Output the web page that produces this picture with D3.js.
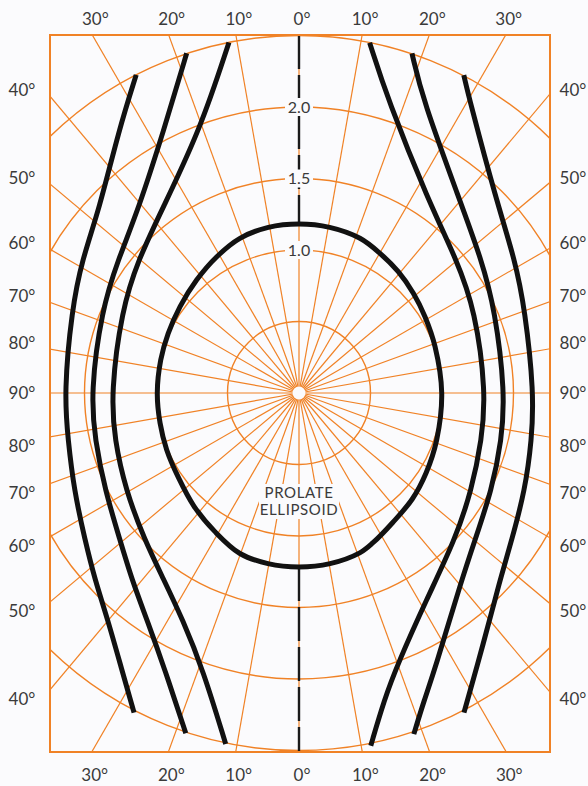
<!DOCTYPE html>
<html>
  <head>
    <title>Prolate ellipsoid polar diagram</title>
    <style>
      body {
        margin: 0;
        background: #fbfbfd;
      }
      svg {
        display: block;
      }
      text {
        font-family: Lato, 'Open Sans', sans-serif;
        fill: #3a3a3a;
      }
    </style>
  </head>
  <body>
    <svg id="svg" width="588" height="786"></svg>
    <script src="https://cdn.jsdelivr.net/npm/d3@7"></script>
    <script>
      // every curve is [angle from the top in degrees (clockwise), radius]
      const ellipsoid = [
        [0, 1.182], [10.5, 1.178], [21.5, 1.163], [30.1, 1.129], [39.3, 1.096],
        [48.9, 1.061], [58.8, 1.03], [71.2, 1.005], [90, 0.998], [108.8, 1.017],
        [122.2, 1.05], [133.1, 1.085], [144.1, 1.118], [153.7, 1.168], [159.2, 1.196],
        [169.7, 1.213], [180, 1.217], [-169.7, 1.213], [-159.8, 1.196], [-149, 1.135],
        [-137.2, 1.08], [-125.1, 1.03], [-113.3, 1.007], [-102.2, 0.994], [-90, 0.991],
        [-76.6, 0.994], [-65.5, 1.005], [-54, 1.028], [-42.2, 1.066], [-31.1, 1.113],
        [-20.9, 1.158], [-10.5, 1.178],
      ];
      const leftInner = [
        [-11.3, 2.5], [-20.6, 1.965], [-36.8, 1.6], [-50.4, 1.46], [-64.9, 1.369],
        [-90, 1.315], [-104.3, 1.331], [-119.2, 1.389], [-133.6, 1.491],
        [-143.7, 1.606], [-152.9, 1.783], [-160.9, 2.05], [-168.2, 2.507],
      ];
      const leftMiddle = [
        [-18.3, 2.502], [-27.2, 2.067], [-41.3, 1.704], [-53.7, 1.571], [-67.2, 1.497],
        [-90, 1.457], [-103, 1.464], [-116.6, 1.517], [-129.4, 1.62],
        [-138.2, 1.753], [-146.2, 1.91], [-154.2, 2.152], [-161.6, 2.508],
      ];
      const leftOuter = [
        [-27.1, 2.499], [-34.4, 2.229], [-47.5, 1.896], [-58.5, 1.78],
        [-69.9, 1.692], [-90, 1.643], [-101.5, 1.648], [-113.3, 1.713],
        [-124.5, 1.816], [-132.5, 1.935], [-139.9, 2.075], [-147.4, 2.299],
        [-152.7, 2.515],
      ];
      const rightInner = [
        [11.4, 2.499], [16.9, 2.141], [33.8, 1.623], [49.9, 1.443], [64.8, 1.361],
        [90, 1.308], [104.4, 1.319], [119.3, 1.385], [133.3, 1.499], [148.4, 1.699],
        [159.9, 2.013], [164.5, 2.228], [168.5, 2.517],
      ];
      const rightMiddle = [
        [18.4, 2.503], [22.9, 2.225], [39.8, 1.756], [53.9, 1.58], [67, 1.489],
        [90, 1.441], [103.1, 1.455], [116.7, 1.509], [129.9, 1.604], [139, 1.733],
        [153.9, 2.157], [157.8, 2.318], [161.4, 2.517],
      ];
      const rightOuter = [
        [27.4, 2.504], [30.2, 2.371], [45.6, 1.93], [58.4, 1.774], [69.8, 1.684],
        [90, 1.643], [101.4, 1.66], [113.2, 1.72], [124.6, 1.808], [132.9, 1.92],
        [136.6, 1.994], [147.4, 2.299], [152.7, 2.515],
      ];

      const ringValues = [0.5, 1, 1.5, 2, 2.5];
      const ringLabels = ['1.0', '1.5', '2.0'];
      const ringLabelValues = [1, 1.5, 2];
      const spokeAngles = d3.range(0, 360, 10);
      const edgeAngles = [-30, -20, -10, 0, 10, 20, 30];
      const sideAngles = [40, 50, 60, 70, 80, 90, 100, 110, 120, 130, 140];
      const title = ['PROLATE', 'ELLIPSOID'];

      const cx = 299;
      const cy = 393;
      const frameLeft = 50;
      const frameRight = 550;
      const frameTop = 35;
      const frameBottom = 752;
      const orange = '#f08226';
      const bg = '#fbfbfd';
      const toRad = (d) => (d * Math.PI) / 180;

      const rScale = d3.scaleLinear().domain([0, 2.5]).range([0, 357.5]);

      const svg = d3.select('#svg');
      svg
        .append('defs')
        .append('clipPath')
        .attr('id', 'frame')
        .append('rect')
        .attr('x', frameLeft - cx)
        .attr('y', frameTop - cy)
        .attr('width', frameRight - frameLeft)
        .attr('height', frameBottom - frameTop);

      const plot = svg.append('g').attr('transform', `translate(${cx}, ${cy})`);
      const grid = plot.append('g').attr('clip-path', 'url(#frame)');

      const radial = d3
        .lineRadial()
        .angle((d) => toRad(d[0]))
        .radius((d) => rScale(d[1]));

      // spokes
      grid
        .selectAll('.spoke')
        .data(spokeAngles)
        .join('path')
        .attr('class', 'spoke')
        .attr('d', (a) => radial([[a, 0], [a, 3.2]]))
        .attr('stroke', orange)
        .attr('stroke-width', 1.2)
        .attr('fill', 'none');

      // rings
      grid
        .selectAll('.ring')
        .data(ringValues)
        .join('circle')
        .attr('class', 'ring')
        .attr('r', (d) => rScale(d))
        .attr('stroke', orange)
        .attr('stroke-width', 1.4)
        .attr('fill', 'none');

      plot.append('circle').attr('r', 6.5).attr('fill', bg);

      // black dashed vertical axis outside the ellipsoid
      const axisLine = d3.line();
      plot
        .append('path')
        .attr('d', axisLine([[0, frameTop - cy], [0, -rScale(ellipsoid[0][1])]]))
        .attr('stroke', '#1a1a1a')
        .attr('stroke-width', 2.4)
        .attr('stroke-dasharray', '34,6');
      plot
        .append('path')
        .attr('d', axisLine([[0, rScale(1.217)], [0, frameBottom - cy]]))
        .attr('stroke', '#1a1a1a')
        .attr('stroke-width', 2.4)
        .attr('stroke-dasharray', '34,6');

      // ring labels on the vertical axis
      const ringLab = plot
        .selectAll('.ringlab')
        .data(ringLabelValues)
        .join('g')
        .attr('class', 'ringlab')
        .attr('transform', (d) => `translate(0, ${-rScale(d)})`);
      ringLab
        .append('rect')
        .attr('x', -14)
        .attr('y', -9)
        .attr('width', 28)
        .attr('height', 18)
        .attr('fill', bg);
      ringLab
        .append('text')
        .attr('text-anchor', 'middle')
        .attr('dy', '0.36em')
        .attr('font-size', 16)
        .text((d, i) => ringLabels[i]);

      // black curves
      const curves = [leftInner, leftMiddle, leftOuter, rightInner, rightMiddle, rightOuter];
      plot
        .selectAll('.curve')
        .data(curves)
        .join('path')
        .attr('class', 'curve')
        .attr('d', radial.curve(d3.curveBasis))
        .attr('fill', 'none')
        .attr('stroke', '#111')
        .attr('stroke-width', 5);

      plot
        .append('path')
        .attr('d', radial.curve(d3.curveCatmullRomClosed)(ellipsoid))
        .attr('fill', 'none')
        .attr('stroke', '#111')
        .attr('stroke-width', 5);

      // label under the ellipsoid
      const titleG = plot.append('g').attr('transform', 'translate(0, 91)');
      titleG
        .append('rect')
        .attr('x', -40)
        .attr('y', 0)
        .attr('width', 80)
        .attr('height', 35)
        .attr('fill', bg);
      titleG
        .selectAll('text')
        .data(title)
        .join('text')
        .attr('text-anchor', 'middle')
        .attr('y', (d, i) => 14 + i * 17)
        .attr('font-size', 15)
        .attr('letter-spacing', 0.6)
        .text((d) => d);

      // frame
      svg
        .append('rect')
        .attr('x', frameLeft)
        .attr('y', frameTop)
        .attr('width', frameRight - frameLeft)
        .attr('height', frameBottom - frameTop)
        .attr('fill', 'none')
        .attr('stroke', orange)
        .attr('stroke-width', 2);

      // edge labels, top and bottom
      const deg = (d) => d + '\u00b0';
      svg
        .selectAll('.toplab')
        .data(edgeAngles)
        .join('text')
        .attr('class', 'toplab')
        .attr('x', (a) => cx + (cy - frameTop) * Math.tan(toRad(a)) + 3)
        .attr('y', 25)
        .attr('text-anchor', 'middle')
        .attr('font-size', 17)
        .text((a) => deg(Math.abs(a)));
      svg
        .selectAll('.botlab')
        .data(edgeAngles)
        .join('text')
        .attr('class', 'botlab')
        .attr('x', (a) => cx + (frameBottom - cy) * Math.tan(toRad(a)) + 3)
        .attr('y', 781)
        .attr('text-anchor', 'middle')
        .attr('font-size', 17)
        .text((a) => deg(Math.abs(a)));

      // side labels
      const sideY = (a) => {
        const y = cy - (cx - frameLeft) / Math.tan(toRad(a));
        const shift = a === 90 ? 0 : a < 90 ? -6 : 9;
        return y + shift;
      };
      ['left', 'right'].forEach((side) => {
        svg
          .selectAll('.side-' + side)
          .data(sideAngles)
          .join('text')
          .attr('class', 'side-' + side)
          .attr('x', side === 'left' ? 22 : 573)
          .attr('y', (a) => sideY(a))
          .attr('dy', '0.36em')
          .attr('text-anchor', 'middle')
          .attr('font-size', 17)
          .text((a) => deg(a <= 90 ? a : 180 - a));
      });
    </script>
  </body>
</html>
